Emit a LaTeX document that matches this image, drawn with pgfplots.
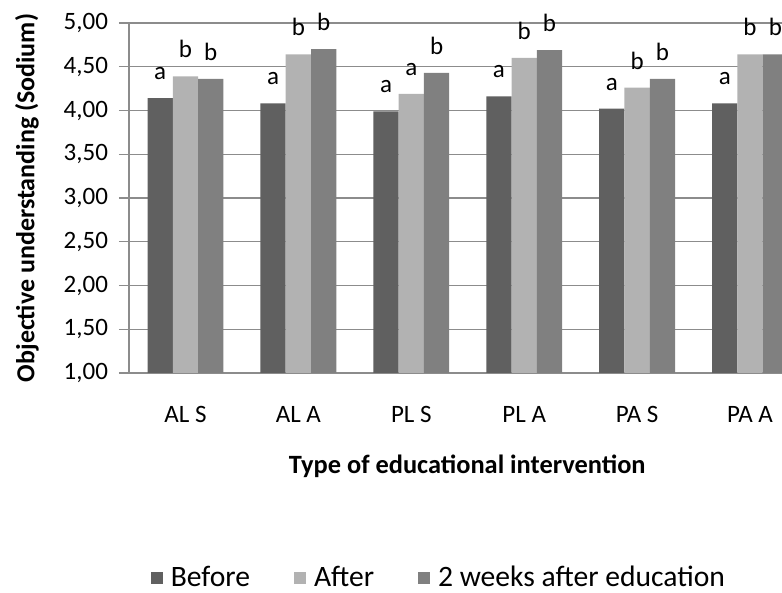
\documentclass[border=0pt]{standalone}
\usepackage{fontspec}
\setmainfont{Carlito}
\usepackage{pgfplots}
\pgfplotsset{compat=1.18}
\definecolor{cBefore}{RGB}{96,96,96}
\definecolor{cAfter}{RGB}{178,178,178}
\definecolor{cTwo}{RGB}{128,128,128}
\definecolor{gridc}{RGB}{140,140,140}
\begin{document}
\begin{tikzpicture}[x=1pt,y=1pt]
\path[use as bounding box] (0,0) rectangle (391,296.5);
\begin{axis}[
  at={(64.5pt,110pt)}, anchor=south west,
  width=326.5pt, height=175pt, scale only axis,
  xmin=-0.5, xmax=5.283, ymin=1, ymax=5,
  ybar=0pt, bar width=0.224,
  axis lines*=left,
  axis line style={draw=gridc, line width=0.7pt},
  /pgf/number format/assume math mode=true,
  xtick={0,...,5},
  xticklabels={AL S, AL A, PL S, PL A, PA S, PA A},
  ytick={1,1.5,...,5},
  yticklabel={\pgfmathprintnumber[fixed, fixed zerofill, precision=2, use comma, assume math mode=true]{\tick}},
  ymajorgrids, grid style={draw=gridc, line width=0.7pt},
  tick align=outside, major tick length=5pt,
  ytick style={draw=gridc, line width=0.7pt},
  xtick style={draw=none},
  yticklabel style={font=\fontsize{12.5}{14}\selectfont, anchor=east, xshift=-2pt},
  xticklabel style={font=\fontsize{12.5}{14}\selectfont, anchor=center, yshift=-15.5pt},
  xlabel={Type of educational intervention},
  ylabel={Objective understanding (Sodium)},
  xlabel style={font=\fontsize{13.2}{15}\selectfont\bfseries, at={(axis description cs:0.518,0)}, anchor=center, yshift=-46.5pt},
  ylabel style={font=\fontsize{13}{15}\selectfont\bfseries, at={(axis description cs:0,0.5)}, anchor=center, yshift=51pt},
  point meta=explicit symbolic,
  nodes near coords,
  every node near coord/.append style={font=\fontsize{12.5}{14}\selectfont, anchor=south, inner sep=0pt, yshift=9pt},
  legend columns=3,
  legend style={at={(axis description cs:0.476,-0.586)}, anchor=center, draw=none, fill=none,
    font=\fontsize{14.8}{17}\selectfont,
    /tikz/every odd column/.append style={column sep=2pt},
    /tikz/every even column/.append style={column sep=20pt}},
]
\addplot[fill=cBefore, draw=none, legend image code/.code={\fill[cBefore] (0pt,-3pt) rectangle (6pt,3pt);}]
  coordinates {(0,4.14) [a] (1,4.08) [a] (2,3.99) [a] (3,4.16) [a] (4,4.02) [a] (5,4.08) [a]};
\addplot[fill=cAfter, draw=none, legend image code/.code={\fill[cAfter] (0pt,-3pt) rectangle (6pt,3pt);}]
  coordinates {(0,4.39) [b] (1,4.64) [b] (2,4.19) [a] (3,4.60) [b] (4,4.26) [b] (5,4.64) [b]};
\addplot[fill=cTwo, draw=none, legend image code/.code={\fill[cTwo] (0pt,-3pt) rectangle (6pt,3pt);}]
  coordinates {(0,4.36) [b] (1,4.70) [b] (2,4.43) [b] (3,4.69) [b] (4,4.36) [b] (5,4.64) [b]};
\legend{Before, After, 2 weeks after education}
\end{axis}
\end{tikzpicture}
\end{document}
